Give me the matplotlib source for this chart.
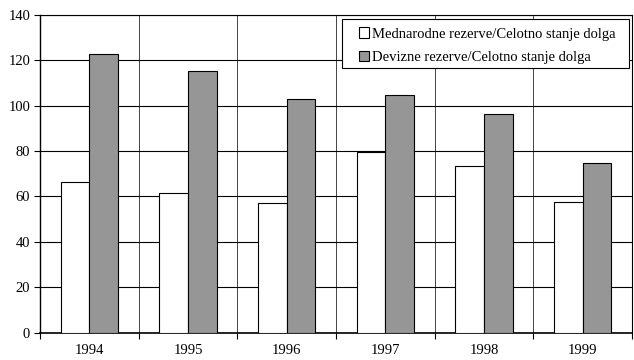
import numpy as np
import matplotlib.pyplot as plt
from matplotlib.patches import Rectangle

plt.rcParams['font.family'] = ['Liberation Serif', 'DejaVu Serif']

years = ['1994', '1995', '1996', '1997', '1998', '1999']
mednarodne = [66.5, 61.4, 57.3, 79.6, 73.5, 57.7]
devizne = [122.6, 115.4, 102.9, 104.8, 96.4, 74.9]

fig = plt.figure(figsize=(6.34, 3.6), dpi=100)
ax = fig.add_axes([0.063, 0.076, 0.934, 0.883])

x = np.arange(len(years))
w = 0.29
ax.bar(x - w / 2, mednarodne, w, color='white', edgecolor='black', linewidth=0.8,
       label='Mednarodne rezerve/Celotno stanje dolga', zorder=3)
ax.bar(x + w / 2, devizne, w, color='#969696', edgecolor='black', linewidth=0.8,
       label='Devizne rezerve/Celotno stanje dolga', zorder=3)

ax.set_xlim(-0.5, len(years) - 0.5)
ax.set_ylim(0, 140)
ax.set_yticks(range(0, 141, 20))

# year labels sit in the middle, ticks and vertical grid on the borders
ax.set_xticks(x)
ax.set_xticklabels(years)
ax.set_xticks(np.arange(-0.5, len(years)), minor=True)
ax.tick_params(axis='x', which='major', length=0, pad=8, labelsize=10.5)
ax.tick_params(axis='x', which='minor', length=4, width=0.8, direction='out')
ax.tick_params(axis='y', length=4, width=0.8, labelsize=10.5, pad=3)

ax.grid(axis='y', which='major', color='black', linewidth=0.8, zorder=0)
ax.grid(axis='x', which='minor', color='#444444', linewidth=0.7, zorder=0)
ax.set_axisbelow(True)

for s in ax.spines.values():
    s.set_linewidth(0.8)
ax.spines['left'].set_linewidth(1.0)
ax.spines['bottom'].set_linewidth(1.2)

# legend box drawn separately so the side padding can be wider than the top
box = Rectangle((0.510, 0.832), 0.485, 0.154, transform=ax.transAxes,
                facecolor='white', edgecolor='black', linewidth=0.8, zorder=5)
ax.add_patch(box)
leg = ax.legend(loc='upper left', bbox_to_anchor=(0.539, 0.960), fontsize=10.5,
                frameon=False, handlelength=0.7, handleheight=0.7,
                handletextpad=0.15, borderpad=0, labelspacing=0.69,
                borderaxespad=0)
leg.set_zorder(6)

fig.savefig('out.png', dpi=100)
